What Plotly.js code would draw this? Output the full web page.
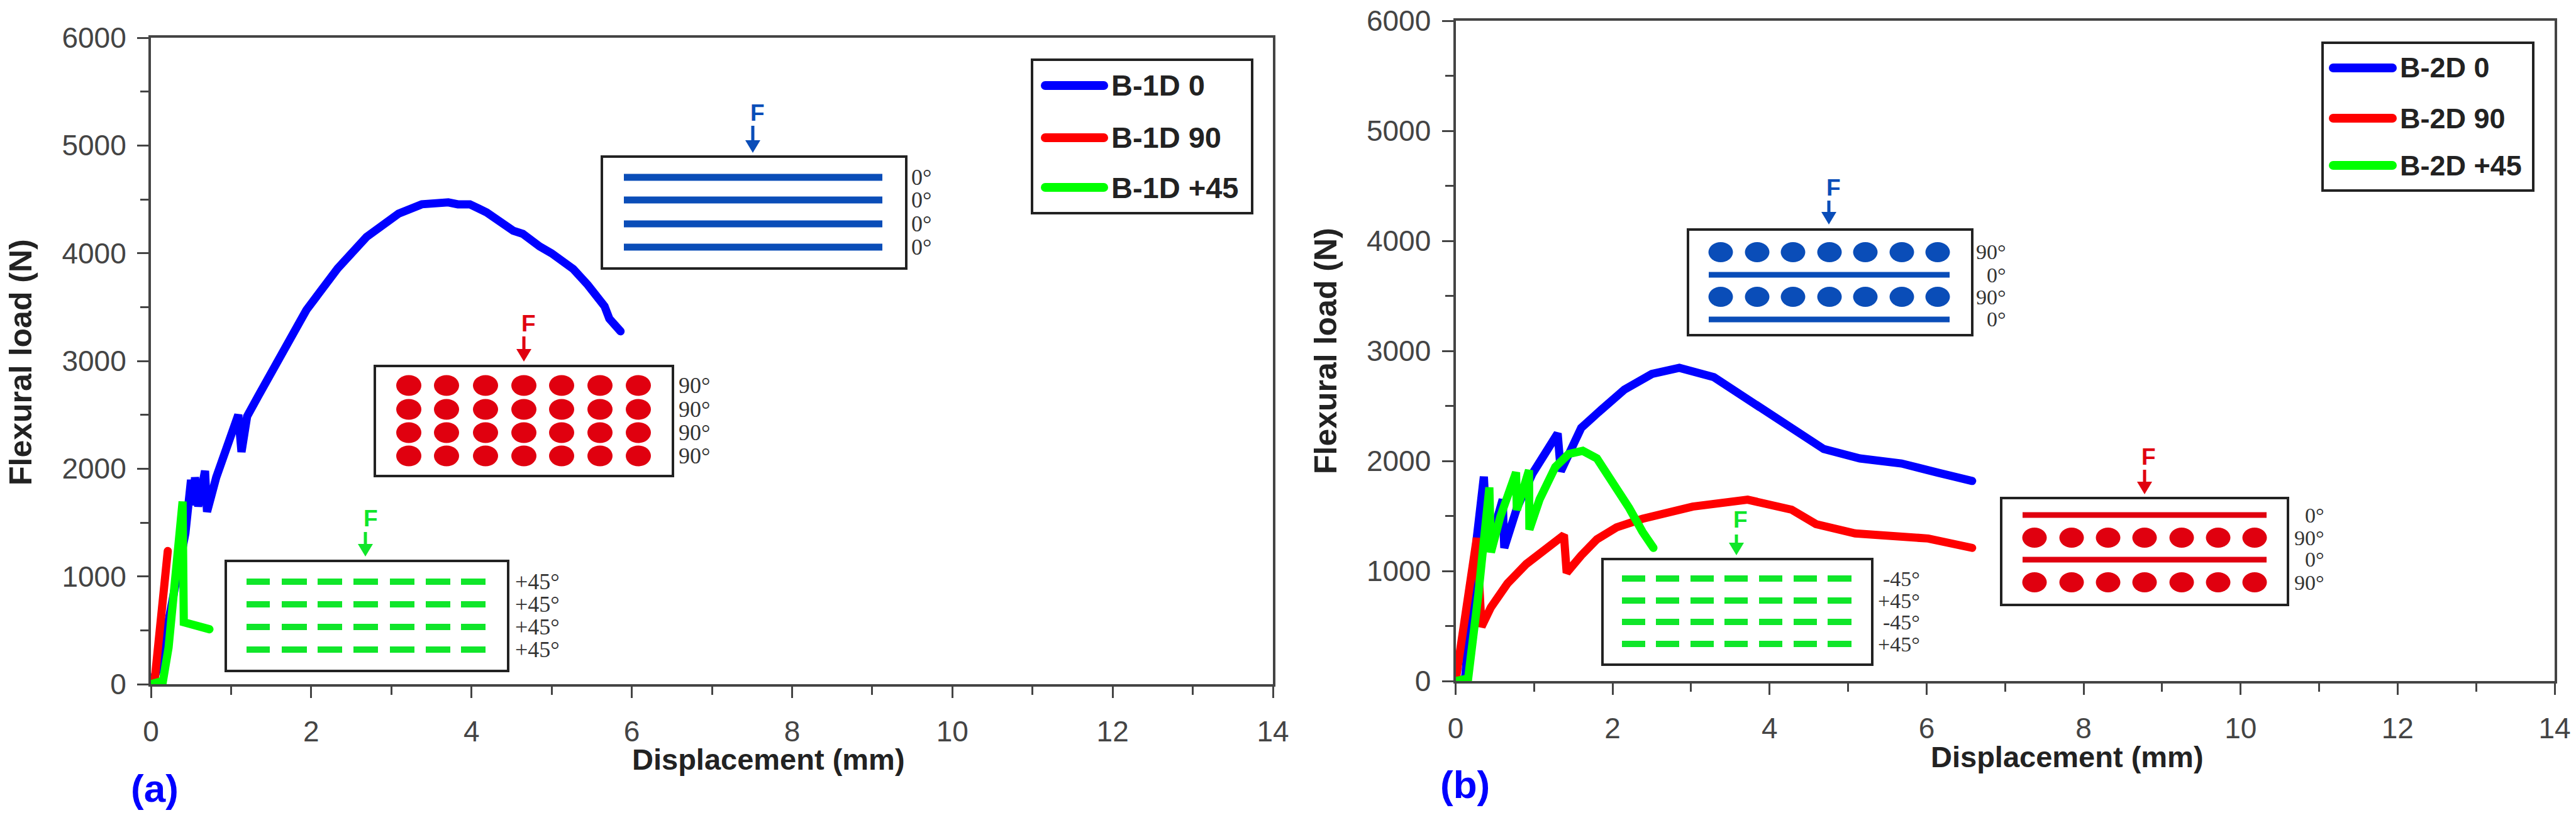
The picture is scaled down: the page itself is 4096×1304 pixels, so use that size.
<!DOCTYPE html>
<html>
<head>
<meta charset="utf-8">
<script src="https://cdn.plot.ly/plotly-3.0.1.min.js"></script>
<style>
html,body{margin:0;padding:0;background:#fff;}
#chart{width:4096px;height:1304px;}
.scatterlayer .js-line{stroke-linecap:round;}
.shapelayer path{stroke-linecap:round;}
</style>
</head>
<body>
<div id="chart"></div>
<script>
// ---------- data ----------
const namesA = ['B-1D 0', 'B-1D 90', 'B-1D +45'];
const namesB = ['B-2D 0', 'B-2D 90', 'B-2D +45'];

const xA0 = [0, 0.12, 0.3, 0.43, 0.5, 0.535, 0.55, 0.59, 0.675, 0.70, 0.815, 0.92, 1.09, 1.13, 1.2, 1.34, 1.62, 1.94, 2.33, 2.69, 3.09, 3.38, 3.71, 3.83, 3.98, 4.19, 4.52, 4.64, 4.85, 5.0, 5.27, 5.45, 5.66, 5.72, 5.86];
const yA0 = [0, 200, 900, 1400, 1896, 1660, 1920, 1650, 1980, 1600, 1920, 2155, 2500, 2155, 2485, 2675, 3040, 3473, 3859, 4151, 4367, 4454, 4472, 4454, 4454, 4378, 4209, 4180, 4063, 3999, 3853, 3707, 3508, 3392, 3275];
const xA90 = [0, 0.05, 0.21];
const yA90 = [0, 60, 1236];
const xA45 = [0, 0.15, 0.22, 0.395, 0.41, 0.73];
const yA45 = [0, 30, 340, 1695, 575, 510];

const xB0 = [0, 0.12, 0.27, 0.36, 0.41, 0.6, 0.62, 0.78, 0.98, 1.3, 1.34, 1.6, 1.82, 2.15, 2.5, 2.85, 3.29, 3.82, 4.36, 4.69, 5.15, 5.68, 6.15, 6.58];
const yB0 = [0, 20, 1300, 1857, 1180, 1650, 1210, 1570, 1886, 2250, 1906, 2300, 2443, 2648, 2790, 2846, 2761, 2517, 2267, 2108, 2023, 1977, 1892, 1818];
const xB90 = [0, 0.27, 0.33, 0.45, 0.66, 0.9, 1.38, 1.415, 1.6, 1.8, 2.05, 2.38, 3.02, 3.72, 4.28, 4.59, 5.09, 6.02, 6.58];
const yB90 = [0, 1300, 494, 670, 886, 1063, 1327, 984, 1141, 1288, 1396, 1474, 1585, 1648, 1557, 1426, 1341, 1295, 1210];
const xB45 = [0, 0.16, 0.29, 0.43, 0.45, 0.57, 0.77, 0.78, 0.935, 0.94, 1.07, 1.27, 1.44, 1.62, 1.8, 2.01, 2.21, 2.38, 2.52];
const yB45 = [0, 24, 788, 1759, 1170, 1494, 1896, 1553, 1916, 1376, 1651, 1945, 2063, 2092, 2023, 1808, 1573, 1357, 1210];

const xTickVals = [0, 2, 4, 6, 8, 10, 12, 14];
const yTickVals = [0, 1000, 2000, 3000, 4000, 5000, 6000];
const xTitle = 'Displacement (mm)';
const yTitle = 'Flexural load (N)';
const panelLetters = ['(a)', '(b)'];
const forceLetter = 'F';
const pliesBlueA = ['0°', '0°', '0°', '0°'];
const pliesRedA = ['90°', '90°', '90°', '90°'];
const pliesGreenA = ['+45°', '+45°', '+45°', '+45°'];
const pliesBlueB = ['90°', '0°', '90°', '0°'];
const pliesRedB = ['0°', '90°', '0°', '90°'];
const pliesGreenB = ['-45°', '+45°', '-45°', '+45°'];

// ---------- style ----------
const W = 4096, H = 1304;
const SANS = '"Liberation Sans", Arial, sans-serif';
const SERIF = '"Liberation Serif", serif';
const CURVE = ['#0000FF', '#FF0000', '#00FF00'];
const BLUE = '#0A4DB8', RED = '#E0000F', GREEN = '#10E62A';
const AXIS = '#444444', TICKTXT = '#444444', INK = '#222222';
const P = v => v / W, Q = v => 1 - v / H;

const shapes = [], annotations = [];
function rectLine(x0, y0, x1, y1) {
  shapes.push({type:'rect', xref:'paper', yref:'paper', x0:P(x0), x1:P(x1), y0:Q(y0), y1:Q(y1),
    line:{color:INK, width:4}, fillcolor:'rgba(0,0,0,0)'});
}
function bar(x0, y0, x1, y1, c) {
  shapes.push({type:'rect', xref:'paper', yref:'paper', x0:P(x0), x1:P(x1), y0:Q(y0), y1:Q(y1),
    line:{width:0}, fillcolor:c});
}
function dot(cx, cy, rx, ry, c) {
  shapes.push({type:'circle', xref:'paper', yref:'paper', x0:P(cx-rx), x1:P(cx+rx), y0:Q(cy+ry), y1:Q(cy-ry),
    line:{width:0}, fillcolor:c});
}
function txt(t, x, y, size, font, color, anchor, bold) {
  annotations.push({text: bold ? '<b>'+t+'</b>' : t, xref:'paper', yref:'paper', x:P(x), y:Q(y),
    xanchor:anchor||'center', yanchor:'middle', showarrow:false, font:{family:font, size:size, color:color}, borderpad:0});
}
function force(tx, ty, ax, y0, y1, c) {
  txt(forceLetter, tx, ty, 37, SANS, c, 'center', true);
  bar(ax-2.5, y0, ax+2.5, y1-16, c);
  shapes.push({type:'path', xref:'paper', yref:'paper',
    path:`M ${P(ax-12)} ${Q(y1-20)} L ${P(ax+12)} ${Q(y1-20)} L ${P(ax)} ${Q(y1)} Z`,
    line:{width:0}, fillcolor:c});
}
function plies(labels, x, ys, anchor, size) {
  labels.forEach((s, i) => txt(s, x, ys[i], size, SERIF, '#333333', anchor));
}
function legendBox(x0, y0, x1, y1, lx0, lx1, tx, ys, names, size) {
  rectLine(x0, y0, x1, y1);
  names.forEach((n, i) => {
    shapes.push({type:'line', xref:'paper', yref:'paper', x0:P(lx0), x1:P(lx1), y0:Q(ys[i]), y1:Q(ys[i]),
      line:{color:CURVE[i], width:14}});
    txt(n, tx, ys[i], size, SANS, INK, 'left', true);
  });
}

// Panel (a) insets
rectLine(957, 249, 1441, 427);
[282, 318, 356, 393].forEach(y => bar(992, y-5.5, 1403, y+5.5, BLUE));
force(1204, 180, 1197, 200, 243, BLUE);
plies(pliesBlueA, 1465, [282, 318, 356, 393], 'center', 36);

rectLine(596, 582, 1070, 757);
[613, 651, 688, 725].forEach(y => [650, 710, 772, 833, 893, 954, 1015].forEach(x => dot(x, y, 20, 16.5, RED)));
force(840, 514, 833, 535, 575, RED);
plies(pliesRedA, 1104, [613, 651, 688, 725], 'center', 36);

rectLine(359, 892, 808, 1067);
[925, 961, 997, 1033].forEach(y => [[392,429],[448,488],[505,544],[562,601],[620,659],[677,716],[733,772]].forEach(d => bar(d[0], y-5, d[1], y+5, GREEN)));
force(589, 824, 581, 846, 885, GREEN);
plies(pliesGreenA, 854, [925, 961, 997, 1033], 'center', 36);

// Panel (b) insets
rectLine(2684, 365, 3136, 533);
[401, 472].forEach(y => [2736, 2794, 2851, 2909, 2966, 3024, 3081].forEach(x => dot(x, y, 19.5, 16, BLUE)));
[437, 508].forEach(y => bar(2717, y-4.5, 3100, y+4.5, BLUE));
force(2915, 298, 2908, 319, 357, BLUE);
plies(pliesBlueB, 3191, [401, 437, 472, 508], 'right', 34);

rectLine(3182, 792, 3638, 962);
[855, 926].forEach(y => [3235, 3294, 3352, 3410, 3469, 3527, 3585].forEach(x => dot(x, y, 19.5, 16, RED)));
[819, 890].forEach(y => bar(3216, y-4.5, 3604, y+4.5, RED));
force(3416, 727, 3410, 747, 786, RED);
plies(pliesRedB, 3697, [819, 855, 890, 926], 'right', 34);

rectLine(2548, 889, 2977, 1057);
[920, 955, 989, 1024].forEach(y => [[2579,2616],[2633,2670],[2688,2725],[2742,2779],[2797,2834],[2852,2889],[2906,2944]].forEach(d => bar(d[0], y-5, d[1], y+5, GREEN)));
force(2767, 827, 2761, 850, 883, GREEN);
plies(pliesGreenB, 3054, [920, 955, 989, 1024], 'right', 34);

// Legends
legendBox(1641, 95, 1991, 339, 1662, 1755, 1766, [136, 219, 298], namesA, 47);
legendBox(3693, 68, 4028, 303, 3710, 3804, 3815, [108, 188, 263], namesB, 45);

// Axis titles and panel letters
txt(xTitle, 1222, 1207, 47, SANS, INK, 'center', true);
txt(xTitle, 3287, 1203, 47, SANS, INK, 'center', true);
annotations.push({text:'<b>'+yTitle+'</b>', xref:'paper', yref:'paper', x:P(33), y:Q(576), textangle:-90,
  showarrow:false, xanchor:'center', yanchor:'middle', font:{family:SANS, size:50, color:INK}, borderpad:0});
annotations.push({text:'<b>'+yTitle+'</b>', xref:'paper', yref:'paper', x:P(2108), y:Q(558), textangle:-90,
  showarrow:false, xanchor:'center', yanchor:'middle', font:{family:SANS, size:50, color:INK}, borderpad:0});
txt(panelLetters[0], 246, 1253, 62, SANS, '#0000FF', 'center', true);
txt(panelLetters[1], 2329, 1247, 62, SANS, '#0000FF', 'center', true);

// ---------- traces ----------
function curve(x, y, name, i, xa, ya) {
  return {type:'scatter', mode:'lines', x:x, y:y, name:name, xaxis:xa, yaxis:ya, showlegend:false,
    cliponaxis:false, line:{color:CURVE[i], width:13, shape:'linear'}, hoverinfo:'skip'};
}
const data = [
  curve(xA0, yA0, namesA[0], 0, 'x', 'y'),
  curve(xA90, yA90, namesA[1], 1, 'x', 'y'),
  curve(xA45, yA45, namesA[2], 2, 'x', 'y'),
  curve(xB0, yB0, namesB[0], 0, 'x2', 'y2'),
  curve(xB90, yB90, namesB[1], 1, 'x2', 'y2'),
  curve(xB45, yB45, namesB[2], 2, 'x2', 'y2')
];

function xAxis(px0, px1, anchor) {
  return {domain:[P(px0), P(px1)], anchor:anchor, range:[0, 14], tickmode:'array', tickvals:xTickVals,
    ticks:'outside', ticklen:18, tickwidth:3, tickcolor:AXIS, ticklabelstandoff:14,
    minor:{ticks:'outside', ticklen:13, tickwidth:3, tickcolor:AXIS, dtick:1, tick0:0, showgrid:false},
    showgrid:false, zeroline:false, showline:true, mirror:true, linecolor:AXIS, linewidth:4,
    tickfont:{family:SANS, size:46, color:TICKTXT}};
}
function yAxis(py0, py1, anchor) {
  return {domain:[Q(py0), Q(py1)], anchor:anchor, range:[0, 6000], tickmode:'array', tickvals:yTickVals,
    ticks:'outside', ticklen:18, tickwidth:3, tickcolor:AXIS, ticklabelstandoff:8,
    minor:{ticks:'outside', ticklen:13, tickwidth:3, tickcolor:AXIS, dtick:500, tick0:0, showgrid:false},
    showgrid:false, zeroline:false, showline:true, mirror:true, linecolor:AXIS, linewidth:4,
    tickfont:{family:SANS, size:46, color:TICKTXT}, tickformat:'d'};
}

const layout = {
  width:W, height:H, margin:{l:0, r:0, t:0, b:0, pad:0},
  paper_bgcolor:'#fff', plot_bgcolor:'#fff', showlegend:false, hovermode:false,
  xaxis:xAxis(240, 2024, 'y'), yaxis:yAxis(1088, 60, 'x'),
  xaxis2:xAxis(2314.5, 4062, 'y2'), yaxis2:yAxis(1083, 33, 'x2'),
  shapes:shapes, annotations:annotations
};
Plotly.newPlot('chart', data, layout, {displayModeBar:false, responsive:false});
</script>
</body>
</html>
